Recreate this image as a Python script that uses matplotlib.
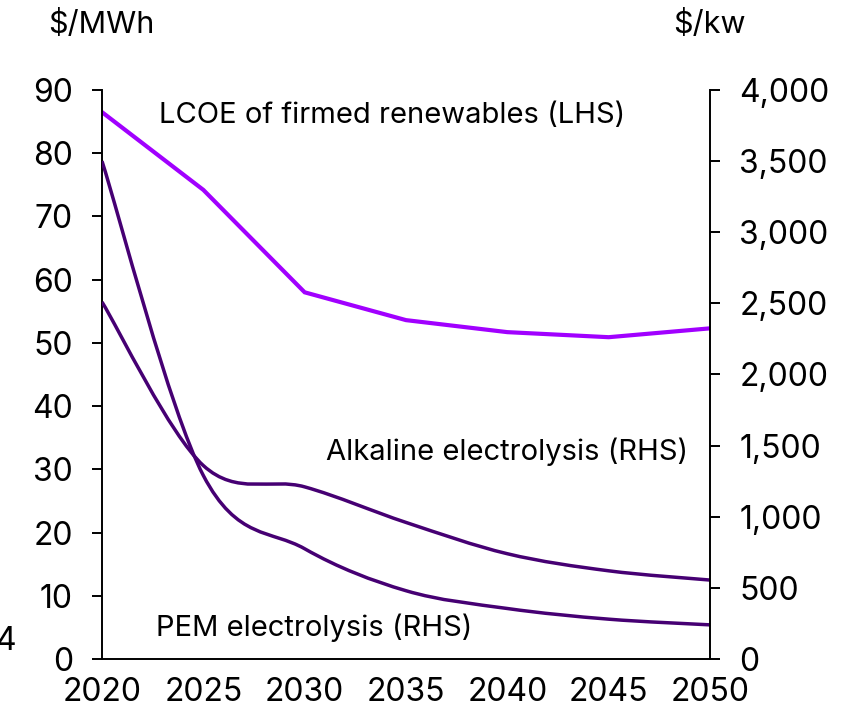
import matplotlib
matplotlib.use("Agg")
import matplotlib.pyplot as plt
from matplotlib.path import Path
from matplotlib.patches import PathPatch
from matplotlib.ticker import FuncFormatter

plt.rcParams['font.family'] = ['Inter', 'DejaVu Sans']

years = [2020, 2025, 2030, 2035, 2040, 2045, 2050]
lcoe = [86.5, 74.2, 58.0, 53.6, 51.7, 50.9, 52.3]          # $/MWh, LHS
alkaline = [2510, 1360, 1210, 960, 740, 620, 555]          # $/kW, RHS
pem = [3500, 1290, 775, 480, 355, 280, 240]                # $/kW, RHS

LIGHT = '#A100FF'
DARK = '#460073'


def smooth_path(xs, ys):
    # cubic bezier through every point, catmull-rom style tangents
    verts = [(xs[0], ys[0])]
    codes = [Path.MOVETO]
    n = len(xs)
    for i in range(n - 1):
        x0, y0 = (xs[i - 1], ys[i - 1]) if i > 0 else (xs[i], ys[i])
        x1, y1 = xs[i], ys[i]
        x2, y2 = xs[i + 1], ys[i + 1]
        x3, y3 = (xs[i + 2], ys[i + 2]) if i + 2 < n else (x2, y2)
        c1 = (x1 + (x2 - x0) / 6, y1 + (y2 - y0) / 6)
        c2 = (x2 - (x3 - x1) / 6, y2 - (y3 - y1) / 6)
        verts += [c1, c2, (x2, y2)]
        codes += [Path.CURVE4] * 3
    return Path(verts, codes)


fig = plt.figure(figsize=(8.59, 7.07), dpi=100)
ax = fig.add_axes([102 / 859, 1 - 659 / 707, 608 / 859, 569 / 707])
ax2 = ax.twinx()

ax.plot(years, lcoe, color=LIGHT, lw=3.0, solid_joinstyle='miter')
for series in (alkaline, pem):
    ax2.add_patch(PathPatch(smooth_path(years, series), fill=False,
                            edgecolor=DARK, lw=2.5))

ax.set_xlim(2020, 2050)
ax.set_ylim(0, 90)
ax2.set_ylim(0, 4000)
ax.set_xticks(years)
ax.set_yticks(range(0, 91, 10))
ax2.set_yticks(range(0, 4001, 500))
ax2.yaxis.set_major_formatter(FuncFormatter(lambda v, p: f'{v:,.0f}'))

for a in (ax, ax2):
    for s in a.spines.values():
        s.set_linewidth(1.4)
    a.spines['top'].set_visible(False)
ax.spines['right'].set_visible(False)
ax2.spines['left'].set_visible(False)
ax2.spines['bottom'].set_visible(False)

ax.tick_params(axis='y', direction='out', length=7, width=1.4, pad=14, labelsize=23)
ax2.tick_params(axis='y', direction='out', length=7, width=1.4, pad=14, labelsize=23)
ax.tick_params(axis='x', length=0, pad=13, labelsize=23)

ax.text(2022.8, 86.0, 'LCOE of firmed renewables (LHS)', fontsize=21, va='center')
ax.text(2031.05, 32.8, 'Alkaline electrolysis (RHS)', fontsize=21, va='center')
ax.text(2022.65, 4.9, 'PEM electrolysis (RHS)', fontsize=21, va='center')

fig.text(48 / 859, 1 - 24 / 707, '$/MWh', fontsize=22, va='center')
fig.text(673 / 859, 1 - 24 / 707, '$/kw', fontsize=22, va='center')
fig.text(-5 / 859, 1 - 641 / 707, '4', fontsize=23, va='center')

fig.savefig('out.png', dpi=100)
